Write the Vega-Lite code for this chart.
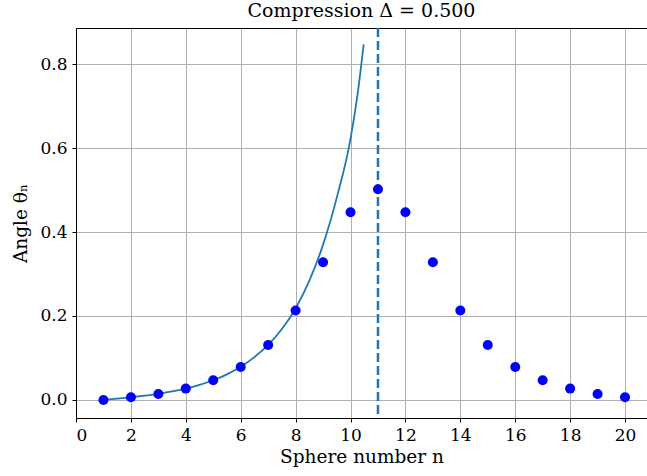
{
  "$schema": "https://vega.github.io/schema/vega-lite/v6.json",
  "width": 571,
  "height": 390,
  "autosize": {"type": "none"},
  "padding": {"left": 76, "top": 28, "right": 0, "bottom": 58},
  "background": "white",
  "config": {
    "view": {"stroke": null},
    "font": "DejaVu Serif",
    "axis": {
      "labelFont": "DejaVu Serif",
      "titleFont": "DejaVu Serif",
      "labelFontSize": 17,
      "titleFontSize": 18.5,
      "labelColor": "black",
      "titleColor": "black",
      "titleFontWeight": "normal",
      "domainColor": "black",
      "domainWidth": 1,
      "tickColor": "black",
      "tickSize": 4,
      "gridColor": "#b0b0b0",
      "gridWidth": 1,
      "gridOpacity": 1
    },
    "title": {"font": "DejaVu Serif", "fontSize": 19, "fontWeight": "normal", "color": "black", "offset": 6}
  },
  "title": {"text": "Compression Δ = 0.500", "anchor": "middle"},
  "datasets": {
    "points": [
      {"n": 1, "theta": 0.0},
      {"n": 2, "theta": 0.0064},
      {"n": 3, "theta": 0.0143},
      {"n": 4, "theta": 0.027},
      {"n": 5, "theta": 0.047},
      {"n": 6, "theta": 0.0786},
      {"n": 7, "theta": 0.131},
      {"n": 8, "theta": 0.213},
      {"n": 9, "theta": 0.328},
      {"n": 10, "theta": 0.447},
      {"n": 11, "theta": 0.502},
      {"n": 12, "theta": 0.447},
      {"n": 13, "theta": 0.328},
      {"n": 14, "theta": 0.213},
      {"n": 15, "theta": 0.131},
      {"n": 16, "theta": 0.0786},
      {"n": 17, "theta": 0.047},
      {"n": 18, "theta": 0.027},
      {"n": 19, "theta": 0.0143},
      {"n": 20, "theta": 0.0064},
      {"n": 21, "theta": 0.0}
    ],
    "curve": [
      {"n": 1, "theta": 0.0},
      {"n": 1.5, "theta": 0.003},
      {"n": 2, "theta": 0.0065},
      {"n": 2.5, "theta": 0.0102},
      {"n": 3, "theta": 0.0145},
      {"n": 3.5, "theta": 0.0202},
      {"n": 4, "theta": 0.027},
      {"n": 4.5, "theta": 0.036},
      {"n": 5, "theta": 0.047},
      {"n": 5.5, "theta": 0.061},
      {"n": 6, "theta": 0.079},
      {"n": 6.5, "theta": 0.102},
      {"n": 7, "theta": 0.131},
      {"n": 7.5, "theta": 0.169},
      {"n": 8, "theta": 0.218},
      {"n": 8.5, "theta": 0.284},
      {"n": 9, "theta": 0.37},
      {"n": 9.5, "theta": 0.482},
      {"n": 10, "theta": 0.622},
      {"n": 10.25, "theta": 0.725},
      {"n": 10.48, "theta": 0.847}
    ],
    "vline": [{"n": 11}]
  },
  "layer": [
    {
      "data": {"name": "curve"},
      "mark": {"type": "line", "color": "#1f77b4", "strokeWidth": 1.8, "interpolate": "monotone", "clip": true},
      "encoding": {
        "x": {
          "field": "n", "type": "quantitative",
          "scale": {"domain": [0, 20.8], "nice": false, "zero": false},
          "axis": {
            "title": "Sphere number n",
            "values": [0, 2, 4, 6, 8, 10, 12, 14, 16, 18, 20],
            "grid": true,
            "labelPadding": 5,
            "titlePadding": 4
          }
        },
        "y": {
          "field": "theta", "type": "quantitative",
          "scale": {"domain": [-0.043, 0.886], "nice": false, "zero": false},
          "axis": {
            "title": "Angle θₙ",
            "values": [0, 0.2, 0.4, 0.6, 0.8],
            "format": ".1f",
            "grid": true,
            "labelPadding": 5,
            "titlePadding": 9
          }
        }
      }
    },
    {
      "data": {"name": "vline"},
      "mark": {"type": "rule", "color": "#1f77b4", "strokeWidth": 2.5, "strokeDash": [9, 4]},
      "encoding": {
        "x": {
          "field": "n", "type": "quantitative",
          "axis": {"orient": "top", "labels": false, "ticks": false, "grid": false, "title": null, "domainColor": "black"}
        }
      }
    },
    {
      "data": {"name": "points"},
      "mark": {"type": "point", "filled": true, "color": "#0000ff", "opacity": 1, "size": 100, "shape": "circle", "clip": true},
      "encoding": {
        "x": {"field": "n", "type": "quantitative", "axis": null},
        "y": {"field": "theta", "type": "quantitative"}
      }
    }
  ],
  "resolve": {"axis": {"x": "independent"}}
}
